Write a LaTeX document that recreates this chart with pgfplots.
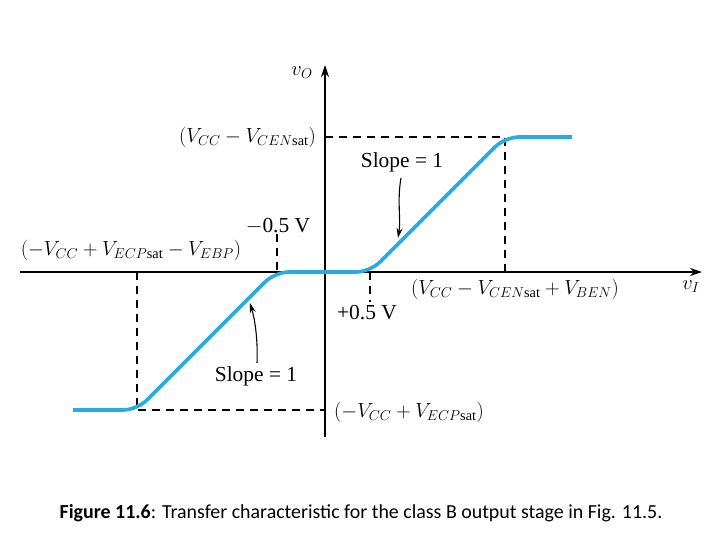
\documentclass[border=0pt]{standalone}
\usepackage{fix-cm}
\usepackage{pgfplots}
\pgfplotsset{compat=1.18}
\usepackage{fontspec}
\setmainfont{Liberation Serif}
\newfontfamily\carlito{Carlito}
\usetikzlibrary{arrows.meta}
\definecolor{curve}{RGB}{41,171,226}
\tikzset{lbl/.style={font=\fontsize{20.5}{24}\selectfont, inner sep=0pt},
         txt/.style={font=\fontsize{21.5}{24}\selectfont, inner sep=0pt}}
\begin{document}
\begin{tikzpicture}
\begin{axis}[
  scale only axis, width=720bp, height=540bp,
  xmin=0, xmax=720, ymin=0, ymax=540, y dir=reverse,
  hide axis, clip=false,
]
% bounding box
\addplot[draw=none] coordinates {(0,0) (720,540)};
% axes
\addplot[black, line width=1.7pt, -{Stealth[length=12pt,width=8pt]}] coordinates {(20,272) (702,272)};
\addplot[black, line width=1.7pt, -{Stealth[length=12pt,width=8pt]}] coordinates {(325,437) (325,65)};
% dashed guides
\addplot[black, line width=1.1pt, dash pattern=on 8pt off 6pt] coordinates {(325,137) (505,137) (505,272)};
\addplot[black, line width=1.1pt, dash pattern=on 8pt off 6pt] coordinates {(137,272) (137,410) (325,410)};
\addplot[black, line width=1.1pt, dash pattern=on 8pt off 6pt] coordinates {(277,234) (277,272)};
\addplot[black, line width=1.1pt, dash pattern=on 8pt off 6pt] coordinates {(370,272) (370,302)};
% transfer curve
\addplot[curve, line width=3.6pt, rounded corners=14pt] coordinates {(73,410) (137,410) (275,272) (370,272) (505,137) (572,137)};
% annotation arrows
\draw[black, line width=1.1pt, -{Stealth[length=10pt,width=6pt]}] (axis cs:401,178) .. controls (axis cs:397,200) and (axis cs:401,220) .. (axis cs:398,238);
\draw[black, line width=1.1pt, -{Stealth[length=10pt,width=6pt]}] (axis cs:257,363) .. controls (axis cs:258,340) and (axis cs:255,320) .. (axis cs:250,303);
% labels
\node[lbl] at (axis cs:302,73) {$v_O$};
\node[lbl, anchor=east] at (axis cs:316,137) {$(V_{CC} - V_{CEN\mathrm{sat}})$};
\node[txt] at (axis cs:402,162) {Slope = 1};
\node[txt] at (axis cs:278,226) {$-$0.5 V};
\node[lbl] at (axis cs:131,250) {$(-V_{CC} + V_{ECP\mathrm{sat}} - V_{EBP})$};
\node[lbl] at (axis cs:515,289) {$(V_{CC} - V_{CEN\mathrm{sat}} + V_{BEN})$};
\node[lbl] at (axis cs:691,287) {$v_I$};
\node[txt] at (axis cs:367,313) {+0.5 V};
\node[txt] at (axis cs:256,376) {Slope = 1};
\node[lbl] at (axis cs:409,412) {$(-V_{CC} + V_{ECP\mathrm{sat}})$};
\node[inner sep=0pt, font=\carlito\fontsize{20}{24}\selectfont] at (axis cs:361,513) {\textbf{Figure 11.6}: Transfer characteristic for the class B output stage in Fig. 11.5.};
\end{axis}
\end{tikzpicture}
\end{document}
